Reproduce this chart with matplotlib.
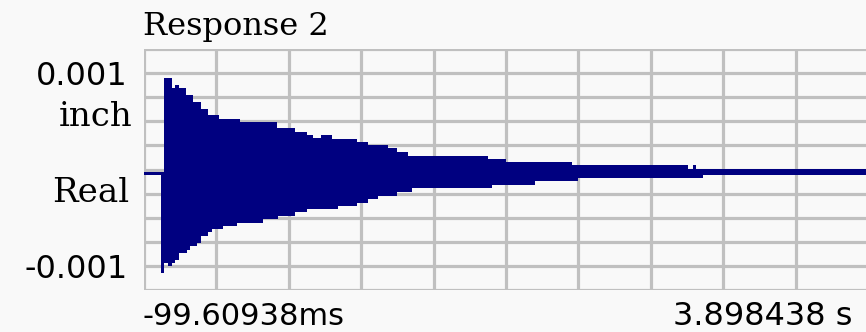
import matplotlib
matplotlib.use("Agg")
import matplotlib.pyplot as plt
import numpy as np

# Envelope of the recorded response (step-wise), time in seconds, displacement in inch
t_s = [-0.0996, -0.0057, 0.0108, 0.0313, 0.0534, 0.0716, 0.0937, 0.1323, 0.1378,
       0.1544, 0.1726, 0.1914, 0.2135, 0.2555, 0.2742, 0.3146, 0.3350, 0.4123,
       0.4305, 0.5559, 0.6332, 0.6387, 0.7342, 0.7988, 0.8353, 0.8761, 0.9369,
       0.9733, 1.0782, 1.1390, 1.1942, 1.2494, 1.2958, 1.3599, 1.3786, 1.8016,
       1.8204, 1.8994, 2.0595, 2.2638, 2.2986, 2.9060, 2.9303, 2.9485, 2.9855,
       3.8984]
upper_in = [-0.000026, -0.000026, 0.000948, 0.000948, 0.000849, 0.000880, 0.000845,
            0.000777, 0.000777, 0.000777, 0.000700, 0.000700, 0.000632, 0.000563,
            0.000563, 0.000529, 0.000529, 0.000529, 0.000494, 0.000494, 0.000426,
            0.000426, 0.000391, 0.000356, 0.000322, 0.000356, 0.000312, 0.000312,
            0.000287, 0.000253, 0.000253, 0.000219, 0.000184, 0.000139, 0.000139,
            0.000105, 0.000105, 0.000074, 0.000074, 0.000043, 0.000043, 0.000002,
            0.000043, 0.000002, 0.000002, 0.000002]
lower_in = [-0.000057, -0.001072, -0.000969, -0.000997, -0.000969, -0.000935, -0.000866,
            -0.000866, -0.000832, -0.000798, -0.000798, -0.000762, -0.000694, -0.000653,
            -0.000618, -0.000618, -0.000584, -0.000550, -0.000550, -0.000514, -0.000514,
            -0.000480, -0.000446, -0.000411, -0.000411, -0.000411, -0.000411, -0.000377,
            -0.000343, -0.000308, -0.000274, -0.000274, -0.000232, -0.000232, -0.000194,
            -0.000194, -0.000160, -0.000160, -0.000124, -0.000124, -0.000091, -0.000091,
            -0.000091, -0.000091, -0.000057, -0.000057]

x_min, x_max = -0.09960938, 3.898438
y_min, y_max = -0.00125, 0.00125
y_ticks = [-0.001, 0.001]
y_tick_labels = ["-0.001", "0.001"]
x_label_left = "-99.60938ms"
x_label_right = "3.898438 s"
title = "Response 2"

W, H = 866, 332
bg = "#f9f9f9"
grid_c = "#c0c0c0"
trace_c = "#000080"

fig = plt.figure(figsize=(W / 100, H / 100), dpi=100, facecolor=bg)
# axes box: left 144px, right 868px (runs past the edge), top 49px, bottom 290px
ax = fig.add_axes([144 / W, 1 - 290 / H, 724 / W, 241 / H], facecolor=bg)
ax.set_xlim(x_min, x_max)
ax.set_ylim(y_min, y_max)

# grid: 10 columns, 10 rows
x_grid = np.linspace(x_min, x_max, 11)
y_grid = np.linspace(y_min, y_max, 11)
for xg in x_grid:
    ax.axvline(xg, color=grid_c, lw=2.3, zorder=1)
for yg in y_grid:
    ax.axhline(yg, color=grid_c, lw=2.3, zorder=1)

for s in ax.spines.values():
    s.set_visible(False)

ax.fill_between(t_s, lower_in, upper_in, step="post", color=trace_c,
                linewidth=0, antialiased=False, zorder=3)

ax.set_xticks([])
ax.set_yticks(y_ticks)
ax.set_yticklabels(y_tick_labels, fontsize=23, family="DejaVu Sans")
ax.tick_params(axis="y", length=0, pad=11.5)

serif = "DejaVu Serif"
fig.text(143 / W, 1 - 35 / H, title, fontsize=23, family=serif,
         ha="left", va="baseline")
fig.text(132 / W, 1 - 126 / H, "inch", fontsize=24.5, family=serif,
         ha="right", va="baseline")
fig.text(129 / W, 1 - 201.5 / H, "Real", fontsize=24.5, family=serif,
         ha="right", va="baseline")
fig.text(142 / W, 1 - 325 / H, x_label_left, fontsize=22, family="DejaVu Sans",
         ha="left", va="baseline")
fig.text(673 / W, 1 - 325 / H, x_label_right, fontsize=23, family="DejaVu Sans",
         ha="left", va="baseline")

fig.savefig("out.png", dpi=100, facecolor=bg)
